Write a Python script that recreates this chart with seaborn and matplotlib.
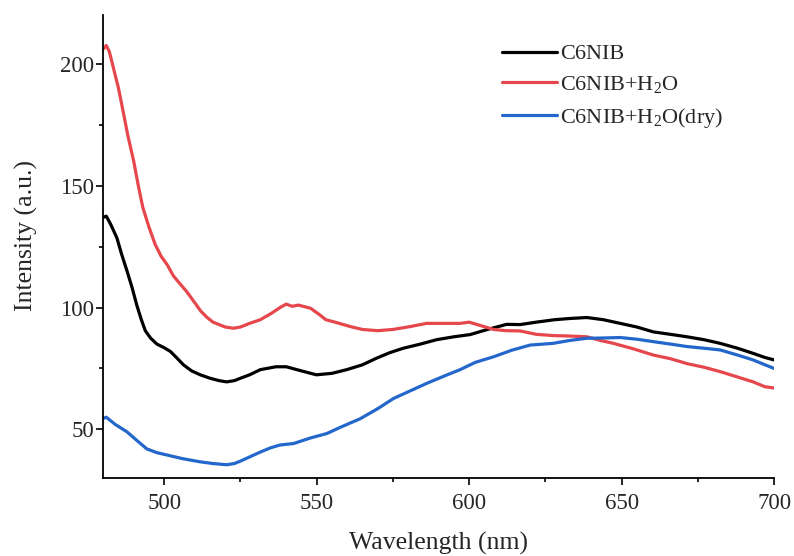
import numpy as np
import pandas as pd
import seaborn as sns
import matplotlib.pyplot as plt
from matplotlib.ticker import MultipleLocator

# Emission spectra (wavelength in nm, intensity in a.u.)
wl_red = [480, 481, 482, 483.4, 485, 486.6, 488, 490, 491.5, 493, 495, 497, 499, 501, 503,
          505, 507.4, 510, 512, 514, 516, 518, 520, 522.7, 525, 528, 531.5, 535, 538, 540,
          542, 544, 548, 551, 553, 556, 561, 565, 570, 575, 580.7, 586, 591, 597, 600,
          604, 608, 612, 616.7, 622, 627.5, 633, 638.6, 643, 647.3, 654, 660.4, 666, 671.4,
          677, 682.3, 688, 693.1, 697, 700]
h2o = [206, 207.5, 205, 198, 190, 180, 171, 160, 150, 141, 133, 126, 121, 117.5, 113,
       110, 106.5, 102, 98.5, 96, 94, 93, 92, 91.5, 92, 93.5, 95, 97.5, 100, 101.4,
       100.5, 101, 99.7, 97, 95, 94, 92.2, 91, 90.5, 91, 92.2, 93.5, 93.5, 93.5, 94,
       92.5, 91, 90.5, 90.4, 89, 88.5, 88.3, 88, 86.5, 85.3, 83, 80.5, 79, 77,
       75.5, 73.7, 71.5, 69.5, 67.5, 67]

wl_black = [480, 481, 482.5, 484.5, 486, 487.8, 489.5, 491, 492.5, 493.8, 495.5, 497.6, 500,
            502, 504, 506.3, 509, 511.8, 515, 518, 520.5, 523, 525, 528, 531.5, 536.6, 540,
            545, 549.9, 555, 559.8, 565, 569.6, 574, 578.4, 584, 589.3, 595, 600.3, 606,
            612.3, 616.7, 622, 628, 633, 638.6, 644, 649.5, 655, 660.4, 666, 671.4, 677,
            682.3, 688, 693.1, 697, 700]
c6nib = [137, 137.5, 134, 128.5, 122, 115, 108, 101, 95, 90.5, 87.5, 85, 83.5,
         82, 79.5, 76.5, 74, 72.4, 71, 70, 69.5, 70, 71, 72.4, 74.5, 75.7, 75.7,
         74, 72.4, 73, 74.5, 76.5, 79.2, 81.5, 83.3, 85, 86.8, 88, 88.9, 91,
         93.1, 93, 94, 95, 95.5, 95.9, 95, 93.5, 92, 90, 89, 88, 86.8,
         85.3, 83.3, 81.2, 79.5, 78.5]

wl_blue = [480, 481, 484, 487.8, 491, 494.3, 497.5, 500.9, 506, 511.8, 516, 520.5, 523, 525,
           528, 531.5, 535, 538, 542.4, 548, 553.3, 558, 564.3, 570, 575.2, 581, 586.1, 592,
           597, 602, 608, 614, 620, 627.5, 633, 638.6, 644, 649.5, 655, 660.4, 666, 671.4,
           677, 682.3, 688, 693.1, 697, 700]
h2o_dry = [54.5, 55, 52, 49, 45.5, 42, 40.5, 39.5, 38, 36.7, 36, 35.5, 36, 37,
           38.7, 40.7, 42.5, 43.6, 44.2, 46.5, 48.3, 51, 54.4, 58.5, 62.7, 66, 68.9, 72,
           74.5, 77.5, 79.8, 82.5, 84.6, 85.3, 86.5, 87.4, 87.5, 87.7, 87, 86, 85, 84,
           83.3, 82.6, 80.5, 78.5, 76.5, 75]

sns.set_theme(style='ticks')
plt.rcParams['font.family'] = ['Liberation Serif', 'DejaVu Serif']
plt.rcParams['mathtext.fontset'] = 'custom'
plt.rcParams['mathtext.rm'] = 'Liberation Serif'

fig = plt.figure(figsize=(7.94, 5.56), dpi=100)
ax = fig.add_axes([0.130, 0.140, 0.845, 0.833])

sns.lineplot(x=wl_black, y=c6nib, ax=ax, color='black', lw=2.3,
             label='C6NIB', estimator=None, sort=False)
sns.lineplot(x=wl_red, y=h2o, ax=ax, color='#e6474c', lw=2.3,
             label='C6NIB+H$_\\mathregular{2}$O', estimator=None, sort=False)
sns.lineplot(x=wl_blue, y=h2o_dry, ax=ax, color='#2467cc', lw=2.3,
             label='C6NIB+H$_\\mathregular{2}$O(dry)', estimator=None, sort=False)

ax.set_xlim(480, 700)
ax.set_ylim(30, 220)
ax.xaxis.set_major_locator(MultipleLocator(50))
ax.xaxis.set_minor_locator(MultipleLocator(25))
ax.yaxis.set_major_locator(MultipleLocator(50))
ax.yaxis.set_minor_locator(MultipleLocator(25))
ax.tick_params(which='major', direction='out', length=5, width=1.2, labelsize=16.5, color='black')
ax.tick_params(which='minor', direction='out', length=3, width=1.2, color='black')
ax.tick_params(axis='x', which='major', pad=6)
ax.tick_params(axis='y', which='major', pad=1.5)
for side in ['top', 'right']:
    ax.spines[side].set_visible(False)
for side in ['left', 'bottom']:
    ax.spines[side].set_linewidth(1.3)
    ax.spines[side].set_color('black')

ax.set_xlabel('Wavelength (nm)', fontsize=18.5)
ax.set_ylabel('Intensity (a.u.)', fontsize=18.5)
ax.xaxis.set_label_coords(0.5, -0.115)
ax.yaxis.set_label_coords(-0.097, 0.525)

ax.legend(loc='upper left', bbox_to_anchor=(0.632, 0.921), bbox_transform=fig.transFigure,
          frameon=False, fontsize=16, handlelength=2.5, handletextpad=0.12,
          labelspacing=0.44, borderpad=0, borderaxespad=0)

fig.savefig('out.png', dpi=100)
